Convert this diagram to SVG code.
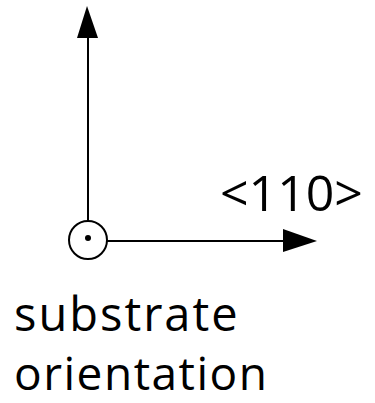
<svg xmlns="http://www.w3.org/2000/svg" width="375" height="403" viewBox="0 0 375 403">
<style>
.ln{stroke:#000;stroke-width:2;fill:none}
.tx{font-family:"Open Sans","Liberation Sans",sans-serif;fill:#000}
</style>
<rect width="375" height="403" fill="#fff"/>
<g id="connectors">
<line class="ln" x1="88" y1="30" x2="88" y2="220"/>
<polygon points="87,6 77,38 98,38" fill="#000"/>
<line class="ln" x1="107" y1="241" x2="290" y2="241"/>
<polygon points="317,241 283,229 283,252" fill="#000"/>
</g>
<g id="origin">
<circle class="ln" cx="88" cy="240" r="19" stroke-width="2.2"/>
<circle cx="88" cy="238" r="3" fill="#000"/>
</g>
<g id="label-110">
<text class="tx" x="220" y="211" font-size="50">&lt;110&gt;</text>
</g>
<g id="caption">
<text class="tx" x="14" y="331" font-size="47" letter-spacing="2">substrate</text>
<text class="tx" x="14" y="390" font-size="46" letter-spacing="1.5">orientation</text>
</g>
</svg>
